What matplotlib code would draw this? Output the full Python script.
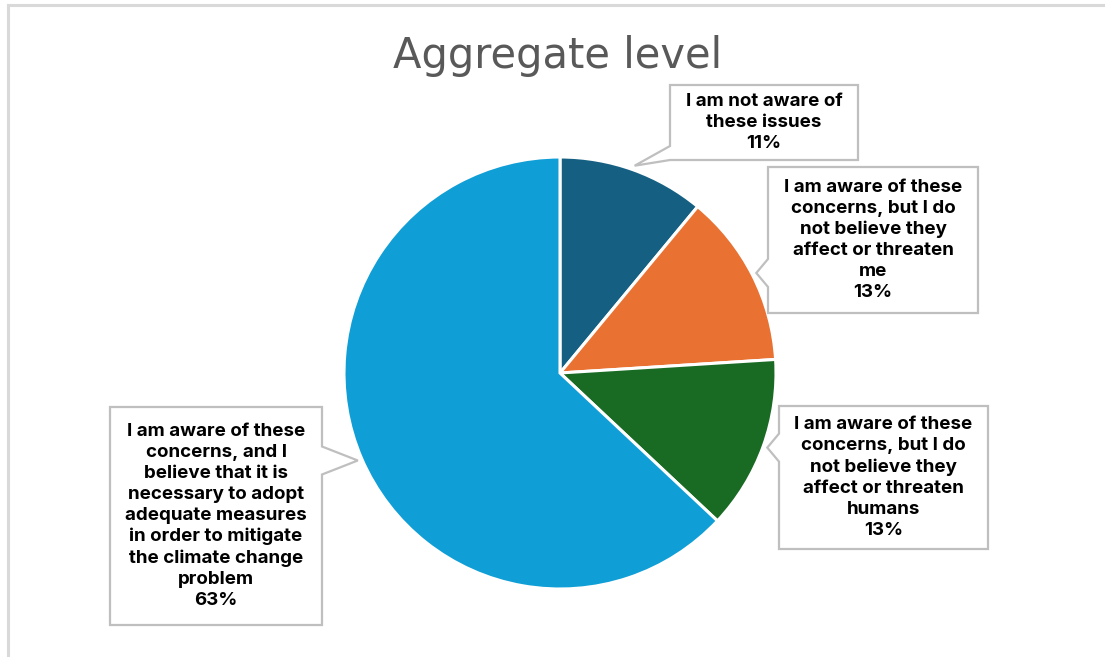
import matplotlib.pyplot as plt
from matplotlib.patches import Polygon
import numpy as np

title = 'Aggregate level'
labels = [
    'I am not aware of\nthese issues',
    'I am aware of these\nconcerns, but I do\nnot believe they\naffect or threaten\nme',
    'I am aware of these\nconcerns, but I do\nnot believe they\naffect or threaten\nhumans',
    'I am aware of these\nconcerns, and I\nbelieve that it is\nnecessary to adopt\nadequate measures\nin order to mitigate\nthe climate change\nproblem',
]
shares = [11, 13, 13, 63]
colors = ['#156082', '#E97132', '#196B24', '#0F9ED5']

# callout boxes in pixels from the top-left corner: (left, top, right, bottom)
boxes = [(670, 85, 858, 160), (768, 167, 978, 313), (779, 406, 988, 549), (110, 407, 322, 625)]

W, H = 1105, 657
CX, CY, R = 560, H - 373, 216


def callout(ax, box, tip, hw=14):
    l, t, r, b = box
    top, bot = H - t, H - b
    tx, ty = tip
    c = np.clip(ty, bot, top)
    lo, hi = max(c - hw, bot), min(c + hw, top)
    if tx < l:
        pts = [(l, top), (r, top), (r, bot), (l, bot), (l, lo), (tx, ty), (l, hi)]
    else:
        pts = [(l, top), (r, top), (r, hi), (tx, ty), (r, lo), (r, bot), (l, bot)]
    ax.add_patch(Polygon(pts, closed=True, facecolor='white', edgecolor='#BFBFBF',
                         linewidth=1.6, joinstyle='miter', zorder=3))


fig = plt.figure(figsize=(W / 100, H / 100), dpi=100)
ax = fig.add_axes([0, 0, 1, 1])

wedges, _ = ax.pie(shares, colors=colors, startangle=90, counterclock=False,
                   center=(CX, CY), radius=R,
                   wedgeprops=dict(edgecolor='white', linewidth=2.2))
ax.set_xlim(0, W)
ax.set_ylim(0, H)
ax.set_aspect('equal')
ax.axis('off')

for w, box, lab, s in zip(wedges, boxes, labels, shares):
    mid = np.deg2rad((w.theta1 + w.theta2) / 2)
    tip = (CX + 1.02 * R * np.cos(mid), CY + 1.02 * R * np.sin(mid))
    callout(ax, box, tip)
    l, t, r, b = box
    ax.text((l + r) / 2, H - (t + b) / 2, f'{lab}\n{s}%', ha='center', va='center',
            multialignment='center', fontsize=13.5, fontweight='bold', family='Inter',
            linespacing=1.3, color='black', zorder=4)

ax.text(558, H - 56, title, ha='center', va='center', fontsize=30,
        color='#595959', family='DejaVu Sans')

# chart frame (only top and left edges are visible)
ax.plot([8, W], [H - 5, H - 5], color='#D9D9D9', lw=2.2, clip_on=False)
ax.plot([8, 8], [H - 5, 0], color='#D9D9D9', lw=2.2, clip_on=False)

fig.savefig('out.png', dpi=100)
